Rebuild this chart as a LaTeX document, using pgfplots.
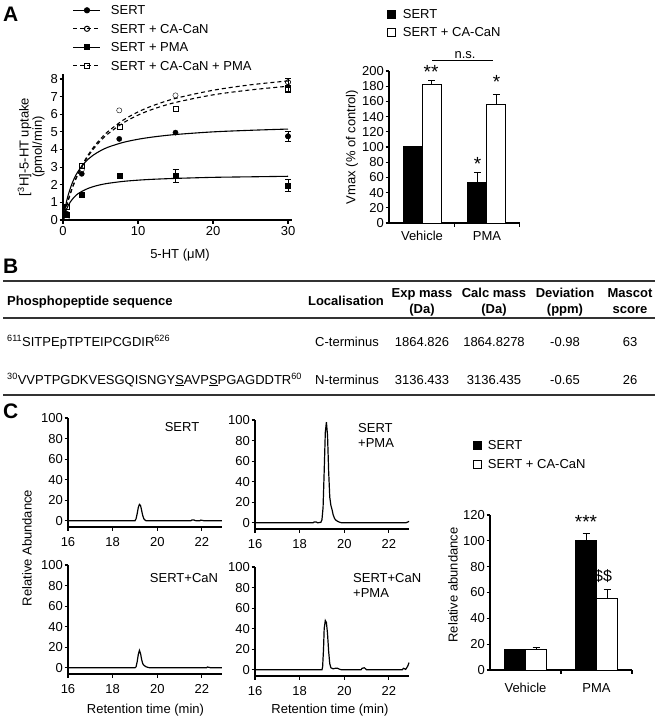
\documentclass[border=0pt]{standalone}
\usepackage{fontspec}
\setmainfont{Liberation Sans}
\usepackage{pgfplots}
\pgfplotsset{compat=1.18}
\newcommand{\fs}{\fontsize{13}{15}\selectfont}
\pgfplotsset{
  base/.style={scale only axis, anchor=south west, axis x line=bottom, axis y line=left,
    axis line style={-, line width=1.1pt}, tick style={black, line width=1.1pt},
    tick align=outside, major tick length=3.5pt,
    /pgf/number format/assume math mode=true, tick label style={font=\fs},
    yticklabel style={inner sep=1.5pt}, xticklabel style={inner sep=2pt}, clip=false,
    legend style={draw=none, fill=none, inner sep=0pt, outer sep=0pt, anchor=north west,
      font=\fs, row sep=5.8pt, nodes={inner sep=0pt, text height=11pt, text depth=1.7pt}},
    legend cell align=left},
  chrom/.style={base, width=154pt, height=109pt, xmin=16, xmax=22.9, ymin=-6, ymax=100,
    xtick={16,18,20,22}, ytick={0,20,...,100}, xticklabel shift=4.5pt},
  barax/.style={base, ybar=0pt, xtick={0.5,1.5}, xticklabels={}, extra x ticks={0,1},
    extra x tick labels={Vehicle,PMA},
    legend image code/.code={\draw[##1, line width=0.9pt] (0pt,-4pt) rectangle (8pt,4pt);}},
  errst/.style={error bars/.cd, y dir=plus, y explicit, error bar style={line width=1pt, black},
    error mark options={rotate=90, mark size=3.5pt, line width=1pt, black}},
  errboth/.style={error bars/.cd, y dir=both, y explicit, error bar style={line width=0.9pt, black},
    error mark options={rotate=90, mark size=3pt, line width=0.9pt, black}},
}
\begin{document}
\begin{tikzpicture}[x=1pt, y=1pt, font=\fs]
\path[use as bounding box] (0,0) rectangle (663,-719);

% ---------- panel letters
\node[anchor=base west, inner sep=0pt, font=\fontsize{21}{21}\selectfont\bfseries] at (3,-22) {A};
\node[anchor=base west, inner sep=0pt, font=\fontsize{21}{21}\selectfont\bfseries] at (3,-273) {B};
\node[anchor=base west, inner sep=0pt, font=\fontsize{21}{21}\selectfont\bfseries] at (3,-418) {C};

% ---------- A: uptake kinetics
\begin{axis}[base, at={(63pt,-220pt)}, width=228.75pt, height=146.3pt,
  xmin=0, xmax=30.5, ymin=0, ymax=8.3, xtick={0,10,20,30}, ytick={0,1,...,8},
  xticklabel shift=1pt,
  legend style={at={(0.0437,1.4768)}, column sep=10pt},
  legend image code/.code={\draw[mark repeat=2, mark phase=2, #1] plot coordinates {(0pt,0pt) (13.5pt,0pt) (27pt,0pt)};}]
\addlegendimage{black, line width=1pt, mark=*, mark size=2.6pt}
\addlegendentry{SERT}
\addlegendimage{black, line width=1pt, dash pattern=on 4pt off 3pt, mark=o, mark size=2.6pt, mark options={solid, fill=white}}
\addlegendentry{SERT + CA-CaN}
\addlegendimage{black, line width=1pt, mark=square*, mark size=2.5pt}
\addlegendentry{SERT + PMA}
\addlegendimage{black, line width=1pt, dash pattern=on 4pt off 3pt, mark=square, mark size=2.5pt, mark options={solid, fill=white}}
\addlegendentry{SERT + CA-CaN + PMA}
% fitted curves
\addplot[black, line width=1.1pt, no marks, smooth, forget plot] coordinates {
 (0,0) (0.5,1.1) (1,1.83) (1.5,2.36) (2,2.75) (3,3.3) (4,3.67) (5,3.93) (6,4.13) (8,4.4)
 (10,4.58) (12,4.71) (15,4.85) (20,5.0) (25,5.09) (30,5.16)};
\addplot[black, line width=1.1pt, no marks, smooth, forget plot] coordinates {
 (0,0) (0.5,0.65) (1,1.04) (1.5,1.3) (2,1.49) (3,1.73) (4,1.89) (5,2.0) (6,2.08) (8,2.19)
 (10,2.26) (12,2.31) (15,2.36) (20,2.42) (25,2.45) (30,2.48)};
\addplot[black, line width=1.1pt, dash pattern=on 4pt off 3pt, no marks, smooth, forget plot] coordinates {
 (0,0) (0.5,0.84) (1,1.53) (1.5,2.12) (2,2.63) (3,3.45) (4,4.09) (5,4.6) (6,5.02) (8,5.66)
 (10,6.13) (12,6.49) (15,6.9) (20,7.36) (25,7.67) (30,7.89)};
\addplot[black, line width=1.1pt, dash pattern=on 4pt off 3pt, no marks, smooth, forget plot] coordinates {
 (0,0) (0.5,0.83) (1,1.52) (1.5,2.1) (2,2.59) (3,3.39) (4,4.0) (5,4.49) (6,4.89) (8,5.5)
 (10,5.95) (12,6.29) (15,6.67) (20,7.1) (25,7.38) (30,7.59)};
% error bars
\addplot[black, only marks, mark=*, mark size=2.6pt, forget plot, errboth] coordinates {(30,4.75) +- (0,0.28)};
\addplot[black, only marks, mark=square*, mark size=2.5pt, forget plot, errboth] coordinates {(15,2.5) +- (0,0.37) (30,1.95) +- (0,0.33)};
\addplot[black, only marks, mark=o, mark size=2.6pt, mark options={fill=white}, forget plot, errboth] coordinates {(30,7.82) +- (0,0.2)};
\addplot[black, only marks, mark=square, mark size=2.5pt, mark options={fill=white}, forget plot, errboth] coordinates {(30,7.42) +- (0,0.15)};
% data points
\addplot[black, only marks, mark=*, mark size=2.6pt, forget plot] coordinates {(0.5,0.35) (2.5,2.62) (7.5,4.6) (15,4.96) (30,4.75)};
\addplot[black, only marks, mark=square*, mark size=2.5pt, forget plot] coordinates {(0.5,0.3) (2.5,1.42) (7.5,2.5) (15,2.5) (30,1.95)};
\addplot[black, only marks, mark=o, mark size=2.6pt, mark options={fill=white}, forget plot] coordinates {(0.5,0.12) (2.5,2.85) (7.5,6.22) (15,7.07) (30,7.82)};
\addplot[black, only marks, mark=square, mark size=2.5pt, mark options={fill=white}, forget plot] coordinates {(0.5,0.75) (2.5,3.08) (7.5,5.32) (15,6.33) (30,7.42)};
\end{axis}
\node[rotate=90] at (24.5,-147) {[\textsuperscript{3}H]-5-HT uptake};
\node[rotate=90] at (38.5,-147) {(pmol/min)};
\node[anchor=base] at (180,-258) {5-HT (μM)};

% ---------- A: Vmax bars
\begin{axis}[barax, at={(389pt,-223pt)}, width=131pt, height=152pt,
  xmin=-0.508, xmax=1.508, ymin=0, ymax=200, ytick={0,20,...,200}, bar width=19pt,
  extra x tick style={major tick length=0pt, xticklabel style={yshift=-6pt}},
  legend style={at={(-0.0153,1.4168)}, column sep=7pt, row sep=5.3pt}]
\addplot[fill=black, draw=black, line width=1pt, errst] coordinates {(0,100) +- (0,0) (1,53) +- (0,13.5)};
\addlegendentry{SERT}
\addplot[fill=white, draw=black, line width=1pt, errst] coordinates {(0,182) +- (0,6) (1,156) +- (0,13)};
\addlegendentry{SERT + CA-CaN}
\end{axis}
\node[rotate=90] at (352,-147) {Vmax (\% of control)};
\node[anchor=base, font=\fontsize{19}{20}\selectfont] at (431,-78.8) {**};
\node[anchor=base, font=\fontsize{19}{20}\selectfont] at (496.5,-88.8) {*};
\node[anchor=base, font=\fontsize{19}{20}\selectfont] at (477.5,-170.8) {*};
\node[anchor=base] at (465,-58.4) {n.s.};
\draw[line width=1pt] (432,-60.7) -- (493,-60.7);

% ---------- B: table
\draw[line width=1.5pt, black!80] (3,-281) -- (655,-281);
\draw[line width=1.3pt, black!80] (3,-318) -- (655,-318);
\draw[line width=1.5pt, black!80] (3,-395) -- (655,-395);
\begin{scope}[every node/.style={inner sep=0pt, font=\fs\bfseries}]
\node[anchor=base west] at (7,-305) {Phosphopeptide sequence};
\node[anchor=base] at (346,-305) {Localisation};
\node[anchor=base] at (422,-297) {Exp mass};
\node[anchor=base] at (422,-313) {(Da)};
\node[anchor=base] at (494,-297) {Calc mass};
\node[anchor=base] at (494,-313) {(Da)};
\node[anchor=base] at (565,-297) {Deviation};
\node[anchor=base] at (565,-313) {(ppm)};
\node[anchor=base] at (630,-297) {Mascot};
\node[anchor=base] at (630,-313) {score};
\end{scope}
\begin{scope}[every node/.style={inner sep=0pt, font=\fs}]
\node[anchor=base west] at (7,-346) {\textsuperscript{611}SITPEpTPTEIPCGDIR\textsuperscript{626}};
\node[anchor=base west] at (7,-384) {\textsuperscript{30}VVPTPGDKVESGQISNGY\underline{S}AVP\underline{S}PGAGDDTR\textsuperscript{60}};
\node[anchor=base] at (347,-346) {C-terminus};
\node[anchor=base] at (347,-384) {N-terminus};
\node[anchor=base] at (422,-346) {1864.826};
\node[anchor=base] at (422,-384) {3136.433};
\node[anchor=base] at (494,-346) {1864.8278};
\node[anchor=base] at (494,-384) {3136.435};
\node[anchor=base] at (565,-346) {-0.98};
\node[anchor=base] at (565,-384) {-0.65};
\node[anchor=base] at (630,-346) {63};
\node[anchor=base] at (630,-384) {26};
\end{scope}

% ---------- C: chromatograms
\begin{axis}[chrom, at={(68pt,-527pt)}]
\addplot[black, line width=1.2pt, no marks] coordinates {
 (16,0) (19.0,0) (19.05,2) (19.1,7) (19.15,13) (19.2,16) (19.25,15) (19.3,10) (19.35,5) (19.4,2)
 (19.45,0.7) (19.5,0) (21.5,0) (21.55,0.8) (21.65,0.8) (21.7,0.2) (21.9,0) (21.95,0.7) (22.05,0.3)
 (22.1,0) (22.9,0)};
\end{axis}
\begin{axis}[chrom, at={(255pt,-529pt)}]
\addplot[black, line width=1.2pt, no marks] coordinates {
 (16,0) (18.6,0) (18.65,0.8) (18.75,0.8) (18.8,0) (18.95,0.5) (19.0,3) (19.05,15) (19.1,50)
 (19.15,88) (19.2,98) (19.25,85) (19.3,50) (19.35,25) (19.4,17) (19.45,13) (19.5,8) (19.55,5)
 (19.6,3) (19.7,1.5) (19.8,0.5) (19.9,0) (22.75,0) (22.85,0.8) (22.9,1.5)};
\end{axis}
\begin{axis}[chrom, at={(68pt,-674pt)}]
\addplot[black, line width=1.2pt, no marks] coordinates {
 (16,0) (19.0,0) (19.05,1) (19.1,6) (19.15,13) (19.2,17) (19.25,14) (19.3,8) (19.35,4) (19.4,2.5)
 (19.5,1) (19.6,0.3) (19.7,0) (22.2,0) (22.25,0.8) (22.35,0.3) (22.4,0) (22.9,0)};
\end{axis}
\begin{axis}[chrom, at={(255pt,-676pt)}]
\addplot[black, line width=1.2pt, no marks] coordinates {
 (16,0) (19.0,0) (19.03,3) (19.07,20) (19.1,40) (19.15,48) (19.2,46) (19.25,35) (19.3,18)
 (19.35,6) (19.4,2) (19.5,1) (19.6,1.5) (19.7,1.5) (19.8,0.5) (19.9,0) (20.75,0) (20.8,1.5)
 (20.9,2) (20.95,1) (21.0,0) (22.6,0) (22.65,1.5) (22.7,1) (22.75,0.5) (22.8,2) (22.85,4) (22.9,7)};
\end{axis}
\node at (182,-427) {SERT};
\node[anchor=base west, inner sep=0pt] at (358,-432) {SERT};
\node[anchor=base west, inner sep=0pt] at (358,-447) {+PMA};
\node at (184,-578) {SERT+CaN};
\node[anchor=base west, inner sep=0pt] at (353,-582) {SERT+CaN};
\node[anchor=base west, inner sep=0pt] at (353,-597) {+PMA};
\node[rotate=90] at (27,-548) {Relative Abundance};
\node[anchor=base] at (145.5,-713) {Retention time (min)};
\node[anchor=base] at (330,-713) {Retention time (min)};

% ---------- C: bar chart
\begin{axis}[barax, at={(490pt,-670pt)}, width=142pt, height=155pt,
  xmin=-0.5, xmax=1.5, ymin=0, ymax=120, ytick={0,20,...,120}, bar width=21pt,
  extra x tick style={major tick length=0pt, xticklabel style={yshift=-11pt}},
  legend style={at={(-0.1197,1.4926)}, column sep=6pt, row sep=6.3pt}]
\addplot[fill=black, draw=black, line width=1pt, errst] coordinates {(0,15.7) +- (0,0) (1,100.5) +- (0,5.5)};
\addlegendentry{SERT}
\addplot[fill=white, draw=black, line width=1pt, errst] coordinates {(0,16) +- (0,1.3) (1,55.5) +- (0,6.5)};
\addlegendentry{SERT + CA-CaN}
\end{axis}
\node[rotate=90] at (453,-585) {Relative abundance};
\node[anchor=base, font=\fontsize{19}{20}\selectfont] at (586,-528.8) {***};
\node[anchor=base, font=\fontsize{16}{18}\selectfont] at (603,-581.6) {\$\$};
\end{tikzpicture}
\end{document}
